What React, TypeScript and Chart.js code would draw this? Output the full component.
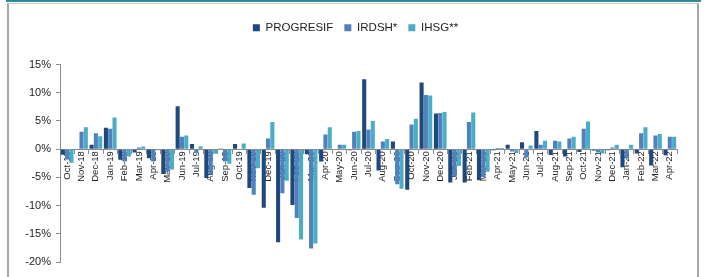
import React, { useEffect, useRef } from "react";
import { Chart, registerables } from "chart.js";

Chart.register(...registerables);

const categories = [
  "Oct-18", "Nov-18", "Dec-18", "Jan-19", "Feb-19", "Mar-19", "Apr-19", "May-19", "Jun-19", "Jul-19",
  "Aug-19", "Sep-19", "Oct-19", "Nov-19", "Dec-19", "Jan-20", "Feb-20", "Mar-20", "Apr-20", "May-20",
  "Jun-20", "Jul-20", "Aug-20", "Sep-20", "Oct-20", "Nov-20", "Dec-20", "Jan-21", "Feb-21", "Mar-21",
  "Apr-21", "May-21", "Jun-21", "Jul-21", "Aug-21", "Sep-21", "Oct-21", "Nov-21", "Dec-21", "Jan-22",
  "Feb-22", "Mar-22", "Apr-22",
];

const progresif = [
  -1.0, 0.0, 0.8, 3.8, -1.9, -0.6, -1.6, -4.4, 7.6, 0.9,
  -5.1, 0.1, 0.9, -6.9, -10.4, -16.5, -9.9, -0.9, -2.2, 0.0,
  -0.2, 12.4, -3.8, 1.35, -7.2, 11.8, 6.3, -5.9, -5.9, -5.5,
  -0.2, 0.8, 1.2, 3.2, -1.05, -1.3, -0.5, -0.25, -0.2, -3.2,
  -0.75, -2.9, -1.1,
];

const irdsh = [
  -1.8, 3.1, 2.8, 3.6, -2.2, 0.3, -2.2, -3.9, 2.2, -0.7,
  -4.5, -2.2, 0.0, -8.1, 1.9, -7.8, -12.2, -17.6, 2.6, 0.8,
  3.1, 3.5, 1.35, -6.2, 4.35, 9.6, 6.4, -4.8, 4.8, -5.0,
  0.2, -0.4, -1.5, 0.8, 1.5, 1.9, 3.6, -0.6, 0.3, -1.6,
  2.8, 2.4, 2.2,
];

const ihsg = [
  -2.4, 3.9, 2.3, 5.6, -1.3, 0.45, -0.2, -3.6, 2.4, 0.5,
  -0.8, -2.6, 1.0, -3.4, 4.8, -5.6, -16.0, -16.7, 3.9, 0.8,
  3.2, 5.0, 1.8, -7.0, 5.4, 9.5, 6.6, -3.0, 6.5, -4.0,
  0.2, -0.7, 0.65, 1.5, 1.35, 2.2, 4.9, -0.75, 0.8, 0.8,
  3.9, 2.7, 2.2,
];

const seriesNames = ["PROGRESIF", "IRDSH*", "IHSG**"];
const seriesColors = ["#1f497d", "#4f81bd", "#4bacc6"];

const yMin = -20;
const yMax = 15;
const yStep = 5;

const legendMargin = {
  id: "legendMargin",
  beforeInit(chart: any) {
    if (!chart.legend) return;
    const origFit = chart.legend.fit;
    chart.legend.fit = function () {
      origFit.bind(chart.legend)();
      this.height += 21;
    };
  },
  afterLayout(chart: any) {
    if (!chart.legend) return;
    chart.legend.left += 17;
    chart.legend.right += 17;
  },
};

export default function App() {
  const ref = useRef<HTMLCanvasElement | null>(null);

  useEffect(() => {
    if (!ref.current) return;
    const data = [progresif, irdsh, ihsg];
    const chart = new Chart(ref.current, {
      type: "bar",
      data: {
        labels: categories,
        datasets: seriesNames.map((name, i) => ({
          label: name,
          data: data[i],
          backgroundColor: seriesColors[i],
          borderWidth: 0,
          categoryPercentage: 0.9,
          barPercentage: 0.95,
        })),
      },
      options: {
        animation: false,
        responsive: false,
        maintainAspectRatio: false,
        layout: { padding: { top: 11, bottom: 15, left: 0, right: 29 } },
        plugins: {
          legend: {
            display: true,
            position: "top",
            labels: {
              boxWidth: 7,
              boxHeight: 7,
              padding: 11,
              color: "#222",
              font: { family: "'Liberation Sans Narrow', 'Liberation Sans', Arial, sans-serif", size: 11.5 },
            },
          },
          tooltip: { enabled: false },
        },
        scales: {
          x: {
            type: "category",
            position: { y: 0 } as any,
            z: 1,
            offset: true,
            grid: {
              display: true,
              drawOnChartArea: false,
              drawTicks: true,
              tickLength: 4,
              color: "#8c8c8c",
              offset: true,
            },
            border: { display: true, color: "#8c8c8c", width: 1 },
            ticks: {
              autoSkip: false,
              maxRotation: 90,
              minRotation: 90,
              padding: -2,
              color: "#222",
              font: { family: "'Liberation Sans Narrow', 'Liberation Sans', Arial, sans-serif", size: 9.5 },
            },
          },
          y: {
            min: yMin,
            max: yMax,
            afterFit(scale: any) {
              scale.width = 60;
            },
            grid: {
              display: true,
              drawOnChartArea: false,
              drawTicks: true,
              tickLength: 4,
              color: "#8c8c8c",
            },
            border: { display: true, color: "#8c8c8c", width: 1 },
            ticks: {
              stepSize: yStep,
              padding: 5,
              color: "#222",
              font: { family: "'Liberation Sans', Arial, sans-serif", size: 11 },
              callback: (v: any) => `${v}%`,
            },
          },
        },
      },
      plugins: [legendMargin],
    });
    return () => chart.destroy();
  }, []);

  return (
    <div style={{ position: "fixed", left: 0, top: 0, width: 706, height: 277, background: "#fff", overflow: "hidden" }}>
      <div style={{ position: "absolute", left: 6, top: 0, width: 695, height: 2, background: "#2f8798" }} />
      <div
        style={{
          position: "absolute",
          left: 7,
          top: 3,
          width: 688,
          height: 300,
          borderLeft: "2px solid #a6a6a6",
          borderRight: "2px solid #a6a6a6",
          borderTop: "1px solid #c8c8c8",
        }}
      />
      <canvas ref={ref} width={706} height={277} style={{ position: "absolute", left: 0, top: 0, width: 706, height: 277 }} />
    </div>
  );
}
